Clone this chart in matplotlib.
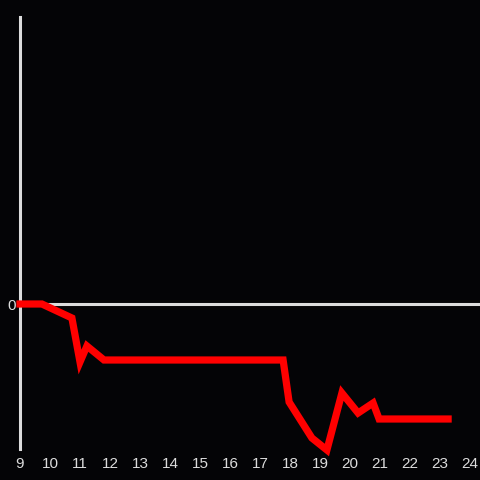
import matplotlib
matplotlib.use("Agg")
import matplotlib.pyplot as plt

# data
hours = [9.0, 9.73, 10.73, 11.0, 11.23, 11.8, 17.77, 17.97, 18.73, 19.23,
         19.73, 20.27, 20.77, 20.97, 23.27]
values = [0.0, 0.0, -1.4, -5.8, -4.2, -5.6, -5.6, -9.8, -13.4, -14.6,
          -8.9, -10.9, -9.9, -11.5, -11.5]
xticks = list(range(9, 25))

BG = "#040406"
FG = "#dcdcdc"

plt.rcParams["font.family"] = ["Liberation Sans", "DejaVu Sans"]

fig = plt.figure(figsize=(4.8, 4.8), dpi=100, facecolor=BG)
ax = fig.add_axes([20 / 480, 31 / 480, 460 / 480, 432 / 480], facecolor=BG)

ax.axhline(0, color=FG, lw=2.2, zorder=1)
ax.plot(hours, values, color="#ff0000", lw=5.2, solid_joinstyle="miter",
        clip_on=False, zorder=3)

ax.set_xlim(9, 24.333)
ax.set_ylim(-14.5, 28.7)
ax.set_xticks(xticks)
ax.set_yticks([0])
ax.tick_params(length=0, colors=FG, labelsize=11)
ax.tick_params(axis="x", pad=6)
ax.tick_params(axis="y", pad=3)
for s in ("top", "right", "bottom"):
    ax.spines[s].set_visible(False)
ax.spines["left"].set_color(FG)
ax.spines["left"].set_linewidth(2.2)

fig.savefig("out.png", facecolor=BG)
